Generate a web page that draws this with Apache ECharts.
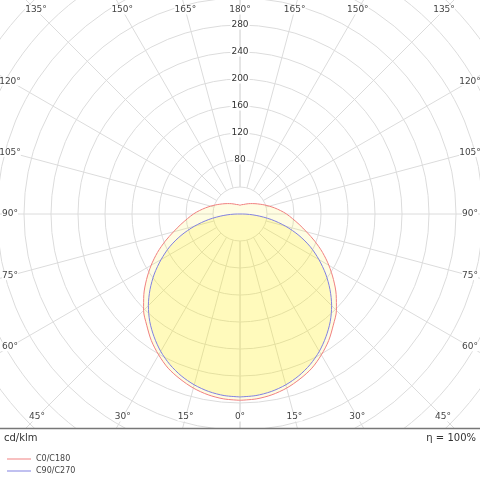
<!DOCTYPE html>
<html>
<head>
<meta charset="utf-8">
<script src="https://cdn.jsdelivr.net/npm/echarts@6/dist/echarts.min.js"></script>
<style>html,body{margin:0;padding:0;background:#fff}#app{width:480px;height:481px}</style>
</head>
<body>
<div id="app"></div>
<script>
// gamma angles (deg from downward) and intensities in cd/klm
var gammaC0 = [0,5,10,15,20,25,30,35,40,45,50,55,60,65,70,75,80,85,90,95,100,105,110,115,120,130,140,150,160,170,180];
var valC0 = [276,275,272,267,260,252,241,229,215,202,186,169,152,135,118,102,89,78,69,60,52,45,39,34,30,24,20,17,15,14,13];
var gammaC90 = [0,5,10,15,20,25,30,35,40,45,50,55,60,65,70,75,80,85,90];
var valC90 = [271,270,267,262,255,246,235,222,208,192,174,155,135,115,93,70,47,24,4];
var ringLabels = [80,120,160,200,240,280];
var spokeAngles = [0,15,30,45,60,75,90,105,120,135,150,165,180];

var cx = 240, cy = 214, rMax = 480, rPx = 324;
var scale = rPx / rMax;

// build closed curve: left half at angle g, right half at 360-g
function curve(gs, vs) {
    var d = [];
    for (var i = 0; i < gs.length; i++) d.push([vs[i], gs[i]]);
    for (var j = gs.length - 1; j >= 0; j--) d.push([vs[j], 360 - gs[j]]);
    return d;
}

var series = [];
spokeAngles.forEach(function (a) {
    [a, 360 - a].forEach(function (b) {
        series.push({
            type: 'line', coordinateSystem: 'polar', silent: true, symbol: 'none', z: 1,
            lineStyle: {color: '#dcdcdc', width: 1},
            data: [[40, b], [rMax, b]]
        });
    });
});
series.push({
    name: 'C0/C180', type: 'line', coordinateSystem: 'polar', symbol: 'none', smooth: 0.3, z: 3,
    lineStyle: {color: '#f08080', width: 1}, itemStyle: {color: '#f08080'},
    areaStyle: {color: 'rgba(255,235,0,0.16)'},
    data: curve(gammaC0, valC0)
});
series.push({
    name: 'C90/C270', type: 'line', coordinateSystem: 'polar', symbol: 'none', smooth: 0.3, z: 4,
    lineStyle: {color: '#8080e0', width: 1}, itemStyle: {color: '#8080e0'},
    areaStyle: {color: 'rgba(255,235,0,0.24)'},
    data: curve(gammaC90, valC90)
});

var graphics = [];
var fnt = '9px "DejaVu Sans", Verdana, sans-serif';
ringLabels.forEach(function (v) {
    graphics.push({type: 'text', z: 50, x: cx, y: cy - v * scale, style: {
        text: String(v), font: fnt, fill: '#333', align: 'center', verticalAlign: 'middle',
        backgroundColor: '#fff', padding: [0, 1]}});
});
// angle labels where each spoke meets the inset border
spokeAngles.forEach(function (a) {
    var t = a * Math.PI / 180;
    var dx = Math.sin(t), dy = Math.cos(t);
    [1, -1].forEach(function (s) {
        if ((a === 0 || a === 180) && s < 0) return;
        var ex = s * dx, ey = dy;
        var k = Infinity;
        if (ex > 1e-6) k = Math.min(k, (470 - cx) / ex);
        if (ex < -1e-6) k = Math.min(k, (10 - cx) / ex);
        if (ey > 1e-6) k = Math.min(k, (417 - cy) / ey);
        if (ey < -1e-6) k = Math.min(k, (10 - cy) / ey);
        graphics.push({type: 'text', z: 50, x: cx + ex * k, y: cy + ey * k, style: {
            text: a + '°', font: fnt, fill: '#444', align: 'center', verticalAlign: 'middle',
            backgroundColor: '#fff'}});
    });
});
graphics.push({type: 'rect', z: 40, shape: {x: 0, y: 428, width: 480, height: 53}, style: {fill: '#fff'}});
graphics.push({type: 'line', z: 41, shape: {x1: 0, y1: 428.5, x2: 480, y2: 428.5}, style: {stroke: '#777', lineWidth: 1.5}});
graphics.push({type: 'text', z: 50, x: 4, y: 438, style: {text: 'cd/klm', font: '10px "DejaVu Sans", Verdana, sans-serif', fill: '#333', verticalAlign: 'middle'}});
graphics.push({type: 'text', z: 50, x: 476, y: 438, style: {text: 'η = 100%', font: '10px "DejaVu Sans", Verdana, sans-serif', fill: '#333', align: 'right', verticalAlign: 'middle'}});

var myChart = echarts.init(document.getElementById('app'));
myChart.setOption({
    animation: false,
    polar: {center: [cx, cy], radius: rPx},
    angleAxis: {
        type: 'value', min: 0, max: 360, startAngle: 270, clockwise: true,
        axisLine: {show: false}, axisTick: {show: false}, axisLabel: {show: false}, splitLine: {show: false}
    },
    radiusAxis: {
        type: 'value', min: 0, max: rMax, interval: 40,
        axisLine: {show: false}, axisTick: {show: false}, axisLabel: {show: false},
        splitLine: {lineStyle: {color: '#dcdcdc', width: 1}}
    },
    legend: {
        data: ['C0/C180', 'C90/C270'], orient: 'vertical', left: 2, top: 450, itemGap: 4,
        itemWidth: 24, itemHeight: 1, icon: 'rect', z: 60,
        textStyle: {fontSize: 8, color: '#444', fontFamily: 'DejaVu Sans'}
    },
    graphic: graphics,
    series: series
});
</script>
</body>
</html>
